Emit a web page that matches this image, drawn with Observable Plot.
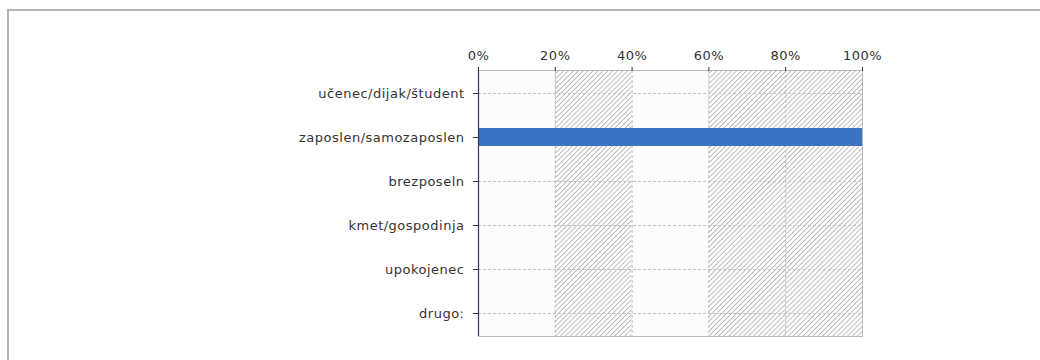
<!DOCTYPE html>
<html>
<head>
<meta charset="utf-8">
<script src="https://cdn.jsdelivr.net/npm/d3@7"></script>
<script src="https://cdn.jsdelivr.net/npm/@observablehq/plot@0.6"></script>
<style>
  html, body { margin: 0; padding: 0; background: #fff; }
  #wrap { position: relative; width: 1040px; height: 360px; overflow: hidden; }
  #frame { position: absolute; left: 7px; top: 9px; width: 1100px; height: 400px;
           border-top: 2px solid #b4b4b4; border-left: 2px solid #b4b4b4; box-sizing: border-box; }
  #chart { position: absolute; left: 0; top: 0; }
  #chart text { letter-spacing: 0.5px; }
</style>
</head>
<body>
<div id="wrap"><div id="frame"></div><div id="chart"></div></div>
<script>
const categories = ["učenec/dijak/študent", "zaposlen/samozaposlen", "brezposeln", "kmet/gospodinja", "upokojenec", "drugo:"];
const values = [0, 100, 0, 0, 0, 0];
const xTicks = [0, 20, 40, 60, 80, 100];
const bandStart = [0, 20, 40, 60, 80];
const bandEnd = [20, 40, 60, 80, 100];
const bandHatched = [false, true, false, true, true];
const gridX = [20, 40, 60, 80];

const data = categories.map((c, i) => ({category: c, value: values[i]}));
const bands = bandStart.map((s, i) => ({x1: s, x2: bandEnd[i], hatched: bandHatched[i]}));

const font = "'DejaVu Sans', Verdana, sans-serif";

const chart = Plot.plot({
  width: 1040,
  height: 360,
  marginLeft: 478,
  marginRight: 178,
  marginTop: 70,
  marginBottom: 24,
  style: {fontFamily: font, fontSize: "13px", color: "#333", background: "transparent"},
  x: {domain: [0, 100], axis: null, label: null},
  y: {domain: categories, padding: 0, axis: null, label: null},
  marks: [
    Plot.rectX(bands, {x1: "x1", x2: "x2", fill: d => d.hatched ? "url(#hatch)" : "#fcfcfc"}),
    Plot.ruleY(categories, {y: d => d, stroke: "#c4c4c4", strokeDasharray: "3,2", strokeWidth: 1}),
    Plot.ruleX(gridX, {stroke: "#bdbdbd", strokeDasharray: "3,2", strokeWidth: 1}),
    Plot.frame({stroke: "#b8b8b8"}),
    Plot.barX(data, {y: "category", x: "value", fill: "#3b74c3", insetTop: 13, insetBottom: 13}),
    Plot.axisX({anchor: "top", ticks: xTicks, tickFormat: d => d + "%", tickSize: 4, tickPadding: 7, stroke: "#333", fill: "#333", fontSize: 13, label: null}),
    Plot.ruleY([0], {frameAnchor: "top", stroke: "#333", strokeWidth: 1}),
    Plot.axisY({anchor: "left", tickSize: 5, tickPadding: 9, stroke: "#333", fill: "#333", fontSize: 13, label: null}),
    Plot.ruleX([0], {stroke: "#3a3560", strokeWidth: 1.2})
  ]
});

const svg = d3.select(chart);
const defs = svg.insert("defs", ":first-child");
const pat = defs.append("pattern")
  .attr("id", "hatch")
  .attr("patternUnits", "userSpaceOnUse")
  .attr("width", 3.5)
  .attr("height", 3.5)
  .attr("patternTransform", "rotate(45)");
pat.append("rect").attr("width", 3.5).attr("height", 3.5).attr("fill", "#ffffff");
pat.append("line").attr("x1", 0).attr("y1", 0).attr("x2", 0).attr("y2", 3.5)
  .attr("stroke", "#9a9a9a").attr("stroke-width", 1.3);

document.getElementById("chart").appendChild(chart);
</script>
</body>
</html>
